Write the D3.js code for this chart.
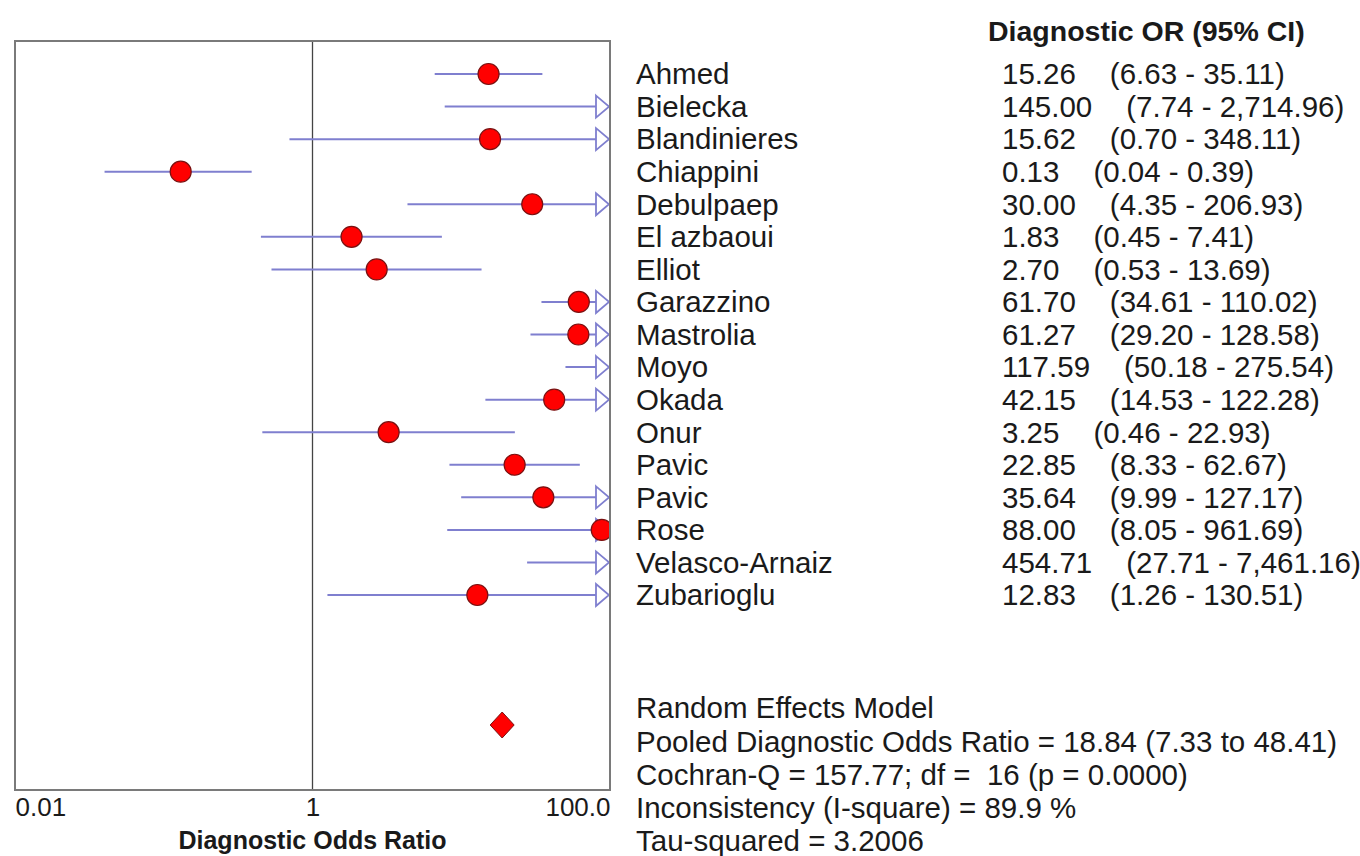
<!DOCTYPE html>
<html>
<head>
<meta charset="utf-8">
<script src="https://cdn.jsdelivr.net/npm/d3@7"></script>
<style>
  body { margin: 0; background: #fff; }
  text { font-family: Arial, "Liberation Sans", sans-serif; fill: #1a1a1a; white-space: pre; }
</style>
</head>
<body>
<svg id="forest" width="1360" height="856"></svg>
<script>
// study rows
var studies = ["Ahmed", "Bielecka", "Blandinieres", "Chiappini", "Debulpaep", "El azbaoui", "Elliot",
    "Garazzino", "Mastrolia", "Moyo", "Okada", "Onur", "Pavic", "Pavic", "Rose", "Velasco-Arnaiz", "Zubarioglu"];
var dor    = [15.26, 145.00, 15.62, 0.13, 30.00, 1.83, 2.70, 61.70, 61.27, 117.59, 42.15, 3.25, 22.85, 35.64, 88.00, 454.71, 12.83];
var ciLow  = [6.63, 7.74, 0.70, 0.04, 4.35, 0.45, 0.53, 34.61, 29.20, 50.18, 14.53, 0.46, 8.33, 9.99, 8.05, 27.71, 1.26];
var ciHigh = [35.11, 2714.96, 348.11, 0.39, 206.93, 7.41, 13.69, 110.02, 128.58, 275.54, 122.28, 22.93, 62.67, 127.17, 961.69, 7461.16, 130.51];

// pooled estimate
var pooled = [18.84];

var xTicks = [0.01, 1, 100];
var xTickLabels = ["0.01", "1", "100.0"];

var summaryLines = [
    "Random Effects Model",
    "Pooled Diagnostic Odds Ratio = 18.84 (7.33 to 48.41)",
    "Cochran-Q = 157.77; df =  16 (p = 0.0000)",
    "Inconsistency (I-square) = 89.9 %",
    "Tau-squared = 3.2006"
];

var svg = d3.select("#forest");
var plot = {left: 15, right: 610, top: 41, bottom: 790};
var fontSize = 29.5;
var lineColor = "#7f7fcf";

var x = d3.scaleLog()
    .domain([0.01, 100])
    .range([plot.left, plot.right]);
var y = d3.scalePoint()
    .domain(d3.range(studies.length))
    .range([74, 595]);
var ySum = d3.scalePoint()
    .domain(d3.range(summaryLines.length))
    .range([708, 841]);

svg.append("defs").append("clipPath").attr("id", "plotclip")
    .append("rect")
    .attr("x", plot.left).attr("y", plot.top)
    .attr("width", plot.right - plot.left).attr("height", plot.bottom - plot.top);

// reference line at 1
svg.append("line")
    .attr("x1", x(1)).attr("x2", x(1))
    .attr("y1", plot.top).attr("y2", plot.bottom)
    .attr("stroke", "#444").attr("stroke-width", 1.3);

var rows = d3.range(studies.length);
var g = svg.append("g").attr("clip-path", "url(#plotclip)");

// CI lines
g.selectAll("line.ci")
    .data(rows)
    .join("line")
    .attr("class", "ci")
    .attr("x1", i => x(Math.max(ciLow[i], 0.01)))
    .attr("x2", i => ciHigh[i] > 100 ? x(100) - 12 : x(ciHigh[i]))
    .attr("y1", i => y(i)).attr("y2", i => y(i))
    .attr("stroke", lineColor).attr("stroke-width", 2);

// open arrow heads where CI runs past the axis
g.selectAll("path.arrow")
    .data(rows.filter(i => ciHigh[i] > 100))
    .join("path")
    .attr("class", "arrow")
    .attr("d", i => {
        var xr = x(100) - 1, yy = y(i);
        return "M" + (xr - 13) + "," + (yy - 11) + "L" + xr + "," + yy + "L" + (xr - 13) + "," + (yy + 11) + "Z";
    })
    .attr("fill", "#fff").attr("stroke", lineColor).attr("stroke-width", 1.8);

// point estimates
g.selectAll("circle.pt")
    .data(rows)
    .join("circle")
    .attr("class", "pt")
    .attr("cx", i => x(dor[i]))
    .attr("cy", i => y(i))
    .attr("r", 10.5)
    .attr("fill", "#ff0000").attr("stroke", "#7a1010").attr("stroke-width", 1.2);

// pooled diamond
g.selectAll("path.pooled")
    .data(pooled)
    .join("path")
    .attr("class", "pooled")
    .attr("d", d => {
        var cx = x(d), cy = 725;
        return "M" + (cx - 12) + "," + cy + "L" + cx + "," + (cy - 13) + "L" + (cx + 12) + "," + cy + "L" + cx + "," + (cy + 13) + "Z";
    })
    .attr("fill", "#ff0000").attr("stroke", "#7a1010").attr("stroke-width", 1);

svg.append("rect")
    .attr("x", plot.left).attr("y", plot.top)
    .attr("width", plot.right - plot.left).attr("height", plot.bottom - plot.top)
    .attr("fill", "none").attr("stroke", "#7a7a7a").attr("stroke-width", 2);

// x axis
var xAxis = svg.append("g")
    .attr("transform", "translate(0," + plot.bottom + ")")
    .call(d3.axisBottom(x).tickValues(xTicks).tickSize(0).tickPadding(8)
        .tickFormat((d, i) => xTickLabels[i]));
xAxis.select(".domain").remove();
xAxis.selectAll("text")
    .attr("font-size", 26)
    .attr("font-family", "Arial, 'Liberation Sans', sans-serif")
    .attr("fill", "#1a1a1a")
    .attr("text-anchor", (d, i) => i === 0 ? "start" : (i === xTicks.length - 1 ? "end" : "middle"));

svg.append("text")
    .attr("x", x(1)).attr("y", 840)
    .attr("dy", "0.35em")
    .attr("text-anchor", "middle")
    .attr("font-size", 25).attr("font-weight", "bold")
    .text("Diagnostic Odds Ratio");

// right-hand table
var nameX = 636, valX = 1002;
svg.append("text")
    .attr("x", 988).attr("y", 31).attr("dy", "0.35em")
    .attr("font-size", 28.5).attr("font-weight", "bold")
    .text("Diagnostic OR (95% CI)");

svg.append("g").selectAll("text")
    .data(rows)
    .join("text")
    .attr("x", nameX).attr("y", i => y(i)).attr("dy", "0.35em")
    .attr("font-size", fontSize)
    .text(i => studies[i]);

var f2 = d3.format(",.2f");
var vals = svg.append("g").selectAll("text")
    .data(rows)
    .join("text")
    .attr("x", valX).attr("y", i => y(i)).attr("dy", "0.35em")
    .attr("font-size", fontSize)
    .text(i => d3.format(".2f")(dor[i]));

var valW = [];
vals.each(function(i) { valW[i] = this.getComputedTextLength(); });

svg.append("g").selectAll("text")
    .data(rows)
    .join("text")
    .attr("x", i => valX + valW[i] + 34).attr("y", i => y(i)).attr("dy", "0.35em")
    .attr("font-size", fontSize)
    .text(i => "(" + f2(ciLow[i]) + " - " + f2(ciHigh[i]) + ")");

svg.append("g").selectAll("text")
    .data(summaryLines)
    .join("text")
    .attr("x", nameX).attr("y", (d, i) => ySum(i)).attr("dy", "0.35em")
    .attr("font-size", fontSize)
    .text(d => d);
</script>
</body>
</html>
